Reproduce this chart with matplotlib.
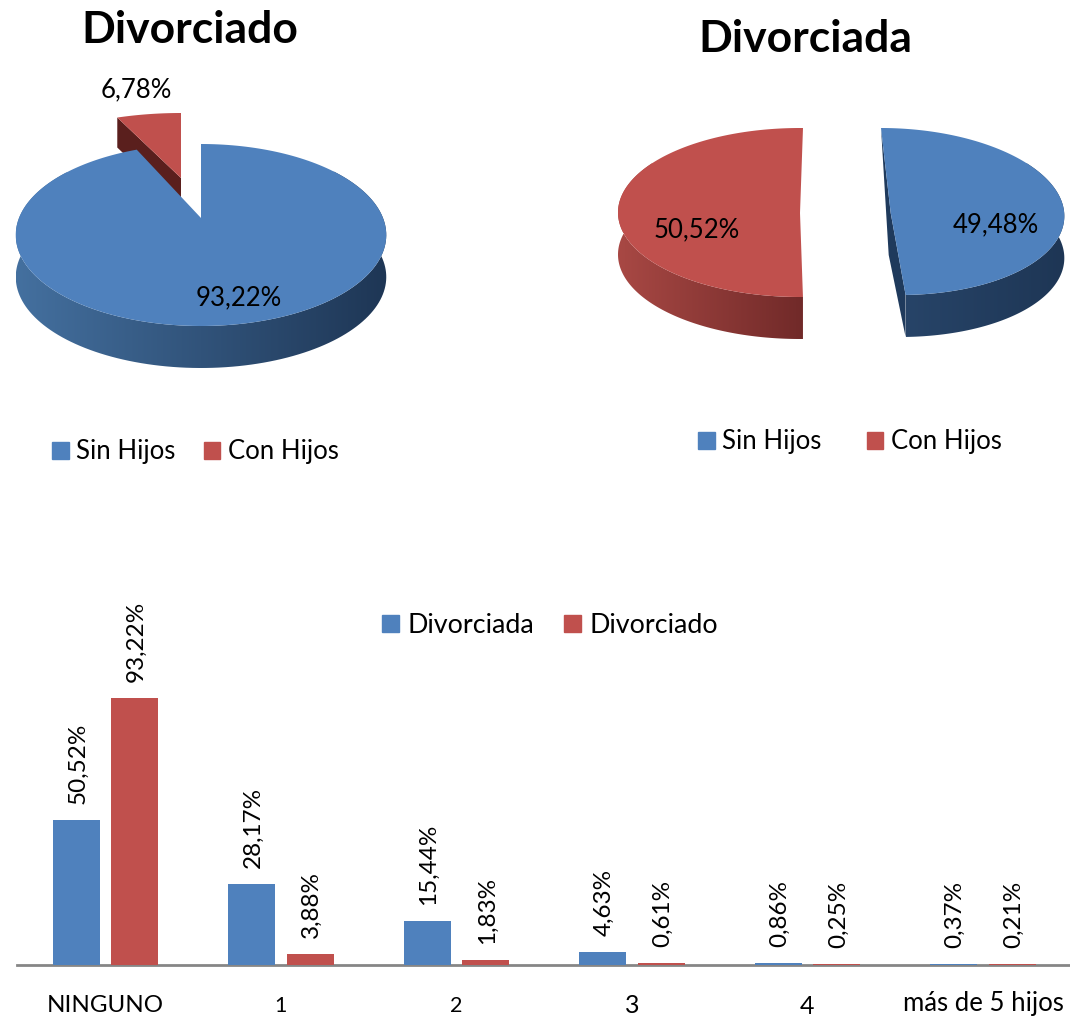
import numpy as np
import matplotlib
matplotlib.use('Agg')
import matplotlib.pyplot as plt
from matplotlib.colors import to_rgb
from matplotlib.patches import Patch, Polygon

plt.rcParams['font.family'] = ['Lato', 'DejaVu Sans']

# datos
pie_labels = ['Sin Hijos', 'Con Hijos']
divorciado = [93.22, 6.78]
divorciada = [49.48, 50.52]

categorias = ['NINGUNO', '1', '2', '3', '4', 'más de 5 hijos']
bar_divorciada = [50.52, 28.17, 15.44, 4.63, 0.86, 0.37]
bar_divorciado = [93.22, 3.88, 1.83, 0.61, 0.25, 0.21]

AZUL = '#4F81BD'
ROJO = '#C0504D'
FS = 18.5


def fmt(v):
    return f'{v:.2f}%'.replace('.', ',')


def proyecta(th, r, p):
    # disco -> pixeles, con algo de perspectiva como el pie 3D de excel
    u, v = r * np.sin(th), r * np.cos(th)
    C = (2 * p['apex'] - p['top'] - p['bot']) / (p['top'] - p['bot'])
    A = p['top'] * (1 + C) - p['apex']
    den = 1 + C * v
    y = (A * v + p['apex']) / den
    x = p['cx'] + p['rx'] * u / den + p.get('shear', 0) * (y - p['apex'])
    return x, y


def rebanada(ax, a0, a1, p, color, pared=None, prof=42):
    th = np.radians(np.linspace(a0, a1, 200))
    x, y = proyecta(th, 1, p)
    if pared is not None:
        # pared lateral con degradado, solo la parte de delante
        frente = np.cos(th) < 0.6
        xf, yf = x[frente], y[frente]
        c0, c1 = [np.array(to_rgb(c)) for c in pared]
        f = np.linspace(0, 1, 256)[None, :, None]
        grad = c0[None, None, :] + (c1 - c0)[None, None, :] * f
        im = ax.imshow(grad, extent=(xf.min(), xf.max(), yf.max() + prof, yf.min()),
                       aspect='auto', zorder=2)
        tira = Polygon(np.c_[np.r_[xf, xf[::-1]], np.r_[yf, yf[::-1] + prof]],
                       transform=ax.transData)
        im.set_clip_path(tira)
    ax0, ay0 = proyecta(np.array([0.0]), 0, p)
    ax.fill(np.r_[x, ax0], np.r_[y, ay0], color=color, lw=0, zorder=3)
    return x, y, ax0[0], ay0[0]


fig = plt.figure(figsize=(10.7, 10.17), dpi=100)

# capa en pixeles para los pies 3D
ov = fig.add_axes([0, 0, 1, 1])
ov.axis('off')

# --- Divorciado ---
esq = 360 * divorciado[0] / 100
p_az = dict(cx=201, rx=182, top=144, apex=218, bot=326)
p_ro = dict(cx=181, rx=197, top=113, apex=178, bot=300)
x, y, xa, ya = rebanada(ov, esq, 360, p_ro, ROJO)
ov.fill([x[0], xa, xa, x[0]], [y[0], ya, ya + 30, y[0] + 30], color='#5A1F1D', lw=0, zorder=1)
rebanada(ov, 0, esq, p_az, AZUL, pared=('#44709F', '#1E3655'))
ov.text(239, 298, fmt(divorciado[0]), ha='center', va='center', fontsize=FS, zorder=5)
ov.text(136, 90, fmt(divorciado[1]), ha='center', va='center', fontsize=FS, zorder=5)

# --- Divorciada ---
esq = 360 * divorciada[1] / 100
extra = (esq - 180) / 2
p_ro2 = dict(cx=800, rx=182, top=128, apex=213, bot=297)
rebanada(ov, 180 - extra, 360 + extra, p_ro2, ROJO, pared=('#A84844', '#712A29'))
p_az2 = dict(cx=890.7, rx=173.5, top=128, apex=213, bot=295, shear=0.114)
esq = 360 * divorciada[0] / 100
x, y, xa, ya = rebanada(ov, 0, esq, p_az2, AZUL, pared=('#274468', '#1E3655'))
ov.fill([x[0], xa - 2, x[-1], x[-1], xa], [y[0], ya + 42, y[-1] + 42, y[-1], ya],
        color='#1F3A5C', lw=0, zorder=2.5)
ov.text(996, 225, fmt(divorciada[0]), ha='center', va='center', fontsize=FS, zorder=5)
ov.text(697, 230, fmt(divorciada[1]), ha='center', va='center', fontsize=FS, zorder=5)

ov.set_xlim(0, 1070)
ov.set_ylim(1017, 0)

# titulos
ov.text(190, 30, 'Divorciado', ha='center', va='center', fontsize=32, fontweight='bold')
ov.text(805, 39, 'Divorciada', ha='center', va='center', fontsize=32, fontweight='bold')


# leyendas
def leyenda(nombres, cx, cy, sep, fs):
    h = [Patch(color=AZUL), Patch(color=ROJO)]
    ov.legend(h, nombres, loc='center', bbox_to_anchor=(cx, cy), bbox_transform=ov.transData,
              ncol=2, frameon=False, fontsize=fs, handlelength=0.64, handleheight=0.64,
              handletextpad=0.3, columnspacing=sep, borderpad=0, borderaxespad=0)


leyenda(pie_labels, 195.5, 452, 1.1, FS)
ov.add_artist(ov.get_legend())
leyenda(pie_labels, 850, 442, 1.75, FS)
ov.add_artist(ov.get_legend())
leyenda(['Divorciada', 'Divorciado'], 550, 625.5, 1.1, FS + 0.9)

# --- barras ---
ax = fig.add_axes([17 / 1070, 1 - 965 / 1017, 1 - 17 / 1070, 365 / 1017])
ax.patch.set_alpha(0)
pos = np.arange(len(categorias))
ancho = 0.268
b1 = ax.bar(pos - 0.167, bar_divorciada, ancho, color=AZUL, zorder=3)
b2 = ax.bar(pos + 0.167, bar_divorciado, ancho, color=ROJO, zorder=3)
ax.set_xlim(-0.504, 5.496)
ax.set_ylim(0, 127.4)
for s in ['top', 'left', 'right']:
    ax.spines[s].set_visible(False)
ax.spines['bottom'].set_color('#868686')
ax.spines['bottom'].set_linewidth(2)
ax.set_yticks([])
ax.set_xticks(pos)
ax.set_xticklabels(categorias)
ax.tick_params(axis='x', length=0)
pads = [21.5, 22.5, 22.5, 21, 21.5, 19]
tamanos = [17.4, 15.5, 15.5, 18, 18, 18.5]
for t, pd_, fs in zip(ax.xaxis.get_major_ticks(), pads, tamanos):
    t.set_pad(pd_)
    t.label1.set_fontsize(fs)
for barras, vals in [(b1, bar_divorciada), (b2, bar_divorciado)]:
    for r, v in zip(barras, vals):
        ax.annotate(fmt(v), (r.get_x() + r.get_width() / 2, v), xytext=(1, 11.5),
                    textcoords='offset points', rotation=90, ha='center', va='bottom',
                    fontsize=FS - 1)

fig.savefig('out.png', dpi=100)
